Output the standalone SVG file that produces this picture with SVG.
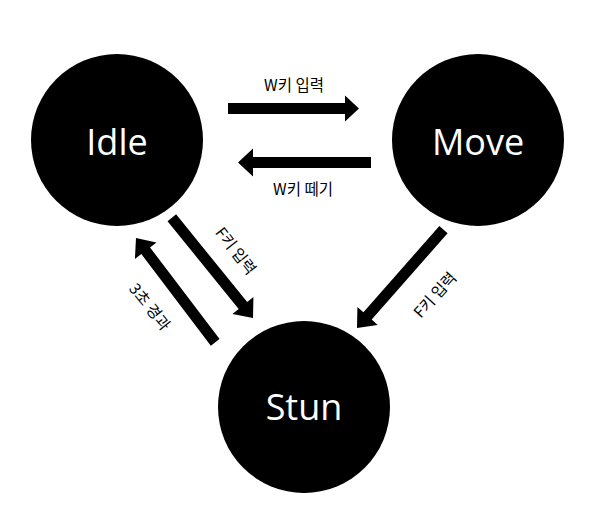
<svg xmlns="http://www.w3.org/2000/svg" width="616" height="523" viewBox="0 0 616 523">
  <style>
    .node { fill: #000; }
    .nlabel { fill: #fff; font-family: "Open Sans", "Noto Sans", sans-serif; font-size: 36px; text-anchor: middle; }
    .arrow { fill: #000; }
    .elabel { fill: #000; font-family: "Noto Sans CJK KR", "Noto Sans", sans-serif; font-size: 15.5px; text-anchor: middle; dominant-baseline: central; }
  </style>
  <rect width="616" height="523" fill="#fff"/>
  <g id="connectors">
    <path class="arrow" transform="translate(359,108.5)" d="M-131,-5.5 H-14 V-13 L0,0 L-14,13 V5.5 H-131 Z"/>
    <path class="arrow" transform="translate(238,162.5) rotate(180)" d="M-133,-5.5 H-15 V-14 L0,0 L-15,14 V5.5 H-133 Z"/>
    <path class="arrow" transform="translate(253,318) rotate(51)" d="M-129,-5.5 H-16 V-13.5 L0,0 L-16,13.5 V5.5 H-129 Z"/>
    <path class="arrow" transform="translate(136,238) rotate(-127.2)" d="M-131,-5.5 H-16 V-13.5 L0,0 L-16,13.5 V5.5 H-131 Z"/>
    <path class="arrow" transform="translate(357,328) rotate(131.3)" d="M-131,-5.5 H-16 V-13.5 L0,0 L-16,13.5 V5.5 H-131 Z"/>
    <text class="elabel" x="294" y="84">W키 입력</text>
    <text class="elabel" x="303" y="188">W키 떼기</text>
    <text class="elabel" transform="translate(237,250) rotate(52)">F키 입력</text>
    <text class="elabel" transform="translate(151,306) rotate(51)">3초 경과</text>
    <text class="elabel" transform="translate(434,294) rotate(-48)">F키 입력</text>
  </g>
  <g id="idle">
    <circle class="node" cx="117" cy="140" r="86"/>
    <text class="nlabel" x="117" y="155">Idle</text>
  </g>
  <g id="move">
    <circle class="node" cx="478" cy="140" r="86"/>
    <text class="nlabel" x="478" y="155">Move</text>
  </g>
  <g id="stun">
    <circle class="node" cx="304" cy="407" r="86"/>
    <text class="nlabel" x="304" y="420">Stun</text>
  </g>
</svg>
